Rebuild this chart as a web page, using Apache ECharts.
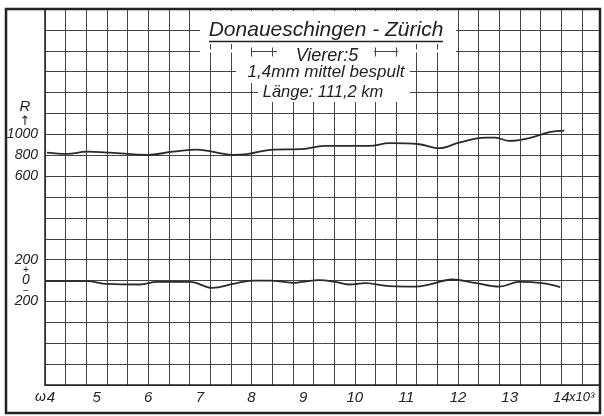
<!DOCTYPE html>
<html>
<head>
<meta charset="utf-8">
<script src="https://cdn.jsdelivr.net/npm/echarts@6/dist/echarts.min.js"></script>
<style>
  html, body { margin: 0; padding: 0; background: #fff; }
  #chart { width: 604px; height: 416px; }
</style>
</head>
<body>
<div id="chart"></div>
<script>
// ω in units of 10^3
const omegaR = [4.04, 4.43, 4.81, 5.26, 5.98, 6.48, 6.95, 7.33, 7.64, 7.91, 8.42, 8.94,
  9.42, 10.28, 10.67, 11.25, 11.64, 12.02, 12.53, 12.72, 12.99, 13.38, 13.77, 14.06]
const valuesR = [825, 812, 834, 825, 803, 834, 854, 825, 803, 810, 854, 858,
  889, 889, 915, 905, 867, 921, 969, 969, 937, 963, 1021, 1036]

const omegaX = [4.00, 4.81, 5.20, 5.84, 6.17, 6.81, 7.24, 7.64, 8.03, 8.36, 8.81, 8.98,
  9.31, 9.62, 9.89, 10.20, 10.67, 11.17, 11.44, 11.89, 12.33, 12.80, 13.19, 13.63, 13.98]
const valuesX = [-6, -6, -32, -38, -12, -12, -70, -32, 0, 0, -22, -12,
  4, -12, -38, -25, -54, -58, -38, 10, -22, -58, -12, -25, -63]

const xLabels = [4, 5, 6, 7, 8, 9, 10, 11, 12, 13, 14]
const rLabels = [600, 800, 1000]
const lowerLabels = [200, 0, -200]

const FONT = 'Liberation Sans'
const INK = '#222'
const GRID = '#444'

const chart = echarts.init(document.getElementById('chart'))

const textStyle = (size) => ({
  fontFamily: FONT, fontStyle: 'italic', fontSize: size, fill: INK
})
const richItalic = (size, extra) => Object.assign({
  fontFamily: FONT, fontStyle: 'italic', fontSize: size, color: INK
}, extra || {})

// white-out areas behind the title block
const blanks = [
  [200, 11, 256, 33],
  [200, 49.5, 51, 3],
  [398, 49.5, 58, 3],
  [277, 44, 97, 20],
  [248, 44, 29, 3.5],
  [248, 56.5, 29, 7.5],
  [374, 44, 26, 3.5],
  [374, 56.5, 26, 7.5],
  [236, 64, 174, 19],
  [258, 83, 152, 19]
]

const option = {
  backgroundColor: '#fff',
  animation: false,
  grid: { left: 45, right: 4, top: 9, bottom: 31, containLabel: false },
  xAxis: [
    {
      type: 'value', position: 'top', min: 4, max: 14.75, interval: 0.4,
      axisLine: { show: false }, axisTick: { show: false }, axisLabel: { show: false },
      splitLine: { show: true, lineStyle: { color: GRID, width: 1 } }
    },
    {
      type: 'value', position: 'bottom', min: 4, max: 14.75, interval: 1,
      axisLine: { show: true, onZero: false, lineStyle: { color: INK, width: 1.5 } },
      axisTick: { show: false },
      splitLine: { show: false },
      axisLabel: {
        margin: 5, showMaxLabel: false,
        formatter: v => {
          if (!xLabels.includes(v)) return ''
          return v === 4 ? '{w|ω}{n|4}' : '{n|' + v + '}'
        },
        rich: {
          n: richItalic(15),
          w: richItalic(14, { padding: [0, 1, 0, 0] })
        }
      }
    }
  ],
  yAxis: [
    {
      type: 'value', position: 'left', min: -1400, max: 2200, interval: 200,
      axisLine: { show: true, onZero: false, lineStyle: { color: INK, width: 1.5 } },
      axisTick: { show: false },
      splitLine: { show: true, lineStyle: { color: GRID, width: 1 } },
      axisLabel: {
        margin: 7,
        formatter: v => {
          if (v === 1200) return '{c|R}\n{a|↑}'
          return rLabels.includes(v) ? '{n|' + v + '}' : ''
        },
        rich: {
          n: richItalic(14),
          c: richItalic(15, { width: 26, align: 'center', lineHeight: 16 }),
          a: { width: 26, align: 'center', fontFamily: 'DejaVu Sans', fontSize: 13, color: INK, lineHeight: 14 }
        }
      }
    },
    {
      type: 'value', position: 'left', min: -1000, max: 2600, interval: 200,
      axisLine: { show: false }, axisTick: { show: false }, splitLine: { show: false },
      axisLabel: {
        margin: 7,
        formatter: v => {
          if (!lowerLabels.includes(v)) return ''
          if (v === 0) return '{s|+}\n{c|0}\n{s|−}'
          return '{n|' + Math.abs(v) + '}'
        },
        rich: {
          n: richItalic(14),
          c: richItalic(14, { width: 24, align: 'center', lineHeight: 11 }),
          s: { width: 24, align: 'center', fontFamily: FONT, fontSize: 10, color: INK, lineHeight: 10.5 }
        }
      }
    }
  ],
  series: [
    {
      name: 'R', type: 'line', xAxisIndex: 1, yAxisIndex: 0,
      data: omegaR.map((w, i) => [w, valuesR[i]]),
      smooth: 0.4, showSymbol: false,
      lineStyle: { color: '#2a2a2a', width: 1.8 }
    },
    {
      name: 'X', type: 'line', xAxisIndex: 1, yAxisIndex: 1,
      data: omegaX.map((w, i) => [w, valuesX[i]]),
      smooth: 0.4, showSymbol: false,
      lineStyle: { color: '#2a2a2a', width: 1.8 }
    }
  ],
  graphic: [
    ...blanks.map(b => ({
      type: 'rect', z: 10, silent: true,
      shape: { x: b[0], y: b[1], width: b[2], height: b[3] },
      style: { fill: '#fff' }
    })),
    {
      type: 'text', z: 11, x: 326, y: 30,
      style: { ...textStyle(21), text: 'Donaueschingen - Zürich', textAlign: 'center', textVerticalAlign: 'middle' }
    },
    {
      type: 'line', z: 11, shape: { x1: 209, y1: 41.5, x2: 443, y2: 41.5 },
      style: { stroke: INK, lineWidth: 1.5 }
    },
    {
      type: 'text', z: 11, x: 327, y: 56,
      style: { ...textStyle(18), text: 'Vierer:5', textAlign: 'center', textVerticalAlign: 'middle' }
    },
    {
      type: 'text', z: 11, x: 326, y: 72,
      style: { ...textStyle(17), text: '1,4mm mittel bespult', textAlign: 'center', textVerticalAlign: 'middle' }
    },
    {
      type: 'text', z: 11, x: 323, y: 92,
      style: { ...textStyle(16.5), text: 'Länge: 111,2 km', textAlign: 'center', textVerticalAlign: 'middle' }
    },
    {
      type: 'text', z: 11, x: 569, y: 397,
      style: { ...textStyle(13), text: 'x10³', textAlign: 'left', textVerticalAlign: 'middle' }
    },
    // outer frame
    {
      type: 'rect', z: 12, silent: true,
      shape: { x: 6, y: 9, width: 594, height: 404 },
      style: { fill: null, stroke: INK, lineWidth: 2.5 }
    }
  ]
}

chart.setOption(option)
</script>
</body>
</html>
